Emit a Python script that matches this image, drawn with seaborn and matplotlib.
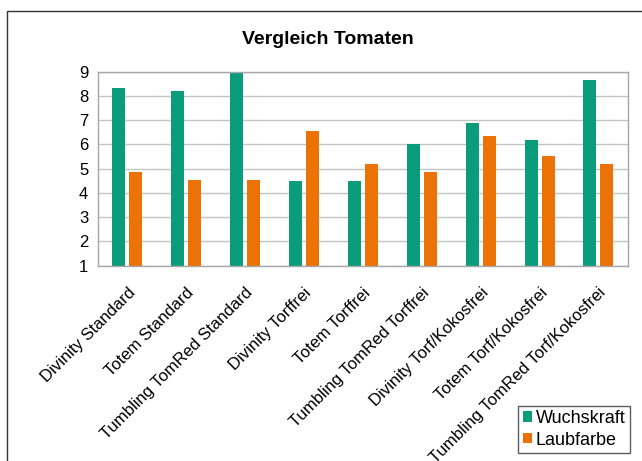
import pandas as pd
import seaborn as sns
import matplotlib.pyplot as plt
from matplotlib.patches import Rectangle

# Daten
sorten = ["Divinity Standard", "Totem Standard", "Tumbling TomRed Standard",
          "Divinity Torffrei", "Totem Torffrei", "Tumbling TomRed Torffrei",
          "Divinity Torf/Kokosfrei", "Totem Torf/Kokosfrei", "Tumbling TomRed Torf/Kokosfrei"]
wuchskraft = [8.33, 8.2, 9.0, 4.5, 4.5, 6.0, 6.87, 6.2, 8.67]
laubfarbe = [4.85, 4.52, 4.52, 6.54, 5.2, 4.85, 6.34, 5.52, 5.2]

df = pd.DataFrame({
    "Sorte": sorten * 2,
    "Wert": wuchskraft + laubfarbe,
    "Merkmal": ["Wuchskraft"] * len(sorten) + ["Laubfarbe"] * len(sorten),
})

sns.set_style("white")
plt.rcParams["font.family"] = ["Liberation Sans", "DejaVu Sans"]
plt.rcParams["text.color"] = "black"
plt.rcParams["xtick.color"] = "black"
plt.rcParams["ytick.color"] = "black"

fig = plt.figure(figsize=(6.42, 4.61), dpi=100)
ax = fig.add_axes([0.1526, 0.4236, 0.8254, 0.4209])

farben = {"Wuchskraft": "#0b9d7b", "Laubfarbe": "#ec7205"}
sns.barplot(data=df, x="Sorte", y="Wert", hue="Merkmal", palette=farben,
            width=0.58, gap=0.24, ax=ax, edgecolor="none", saturation=1)

ax.set_ylim(1, 9)
ax.set_yticks(range(1, 10))
ax.yaxis.grid(True, color="#c4c4c4", linewidth=1)
ax.set_axisbelow(True)
ax.tick_params(axis="y", length=4, color="#c4c4c4", labelcolor="black", labelsize=12, pad=3)
ax.tick_params(axis="x", length=0, labelcolor="black", labelsize=12, pad=14)
for lbl in ax.get_xticklabels():
    lbl.set_rotation(45)
    lbl.set_ha("right")
    lbl.set_rotation_mode("anchor")
for side in ["left", "bottom", "top", "right"]:
    ax.spines[side].set_color("#a8a8a8")
    ax.spines[side].set_linewidth(1)
ax.set_xlabel("")
ax.set_ylabel("")

# Titel mittig ueber der ganzen Grafik
fig.text(328 / 642, 1 - 39 / 461, "Vergleich Tomaten", fontsize=14, fontweight="bold",
         ha="center", va="center", color="black")

# Legende
leg = ax.legend(loc="lower right", bbox_to_anchor=(1.0 + (630 - 628) / 530, -(453 - 265.7) / 194),
                fontsize=13, frameon=True, fancybox=False, handlelength=0.5,
                handleheight=0.5, handletextpad=0.2, borderpad=0.25, labelspacing=0.25,
                borderaxespad=0)
leg.get_frame().set_edgecolor("#333333")
leg.get_frame().set_linewidth(1)
for t in leg.get_texts():
    t.set_color("black")

# Rahmen um die Grafik
fig.add_artist(Rectangle((7 / 642, -0.1), 1.2, 1.1 - 11 / 461, transform=fig.transFigure,
                         fill=False, edgecolor="#333333", linewidth=1))

fig.savefig("out.png", dpi=100)
